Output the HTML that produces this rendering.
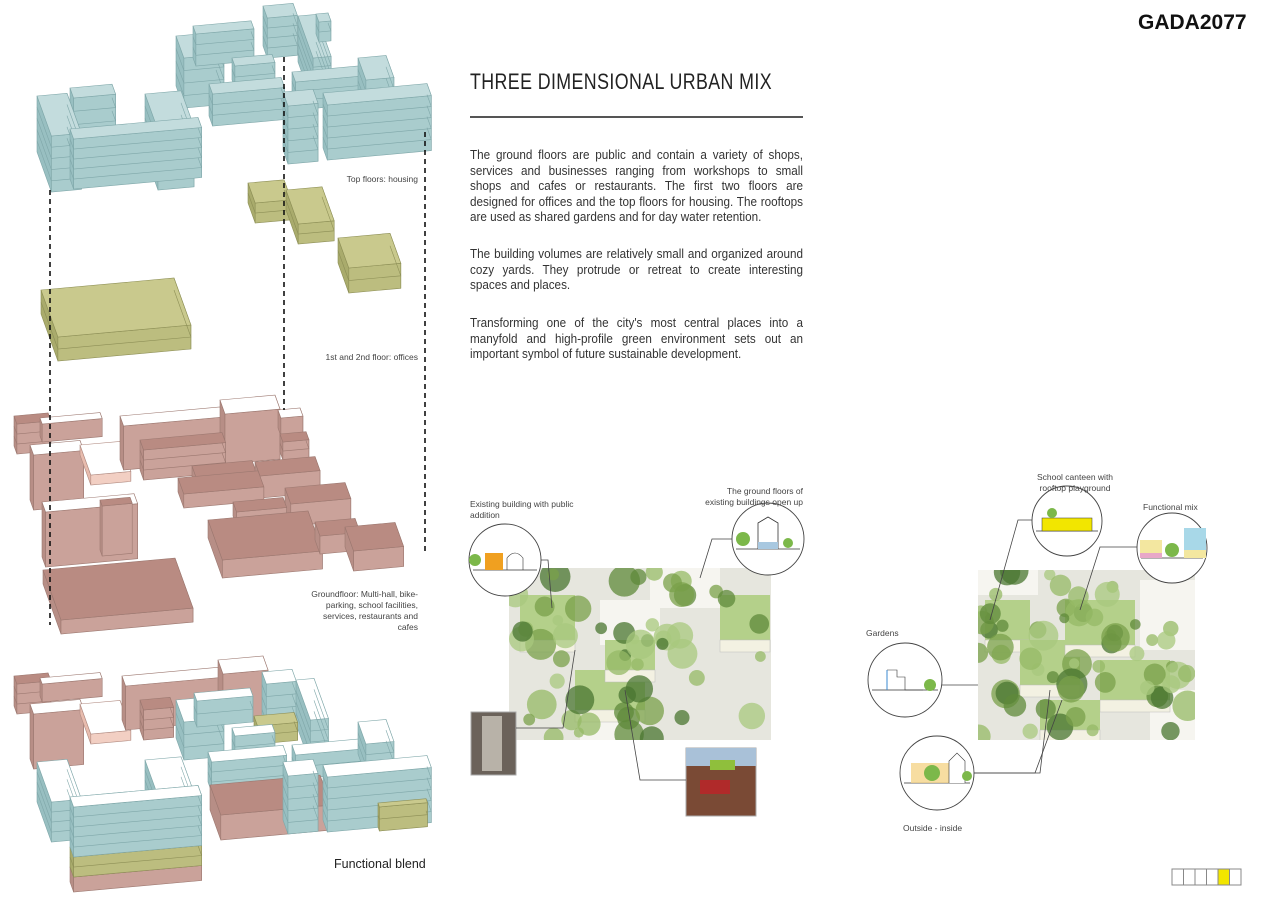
<!DOCTYPE html>
<html><head><meta charset="utf-8">
<style>
html,body{margin:0;padding:0;background:#fff;}
body{width:1273px;height:900px;position:relative;overflow:hidden;font-family:"Liberation Sans",sans-serif;color:#333;}
.abs{position:absolute;white-space:nowrap;}
.lbl{position:absolute;font-size:8.5px;color:#444;line-height:11px;}
.para .ln{position:absolute;left:0;width:370px;font-size:13px;text-align:justify;text-align-last:justify;white-space:nowrap;transform-origin:0 0;transform:scaleX(0.9);color:#333;}
.para .ln.last{text-align-last:left;}
</style></head><body>
<svg id="s" width="1273" height="900" style="position:absolute;left:0;top:0">
<defs>
<clipPath id="c1"><rect x="509" y="568" width="262" height="172"/></clipPath>
<clipPath id="c2"><rect x="978" y="570" width="217" height="170"/></clipPath>
</defs>
<g id="blocks"></g>
<g id="aerial"></g>
<g stroke="#111" stroke-width="1.6" stroke-dasharray="5,4" fill="none">
<line x1="50" y1="190" x2="50" y2="625"/>
<line x1="284" y1="57" x2="284" y2="410"/>
<line x1="425" y1="132" x2="425" y2="555"/>
</g>
<line x1="470" y1="117" x2="803" y2="117" stroke="#555" stroke-width="2"/>
<g stroke="#888" stroke-width="1" fill="#fff">
<rect x="1172" y="869" width="11.5" height="16"/><rect x="1183.5" y="869" width="11.5" height="16"/><rect x="1195" y="869" width="11.5" height="16"/><rect x="1206.5" y="869" width="11.5" height="16"/><rect x="1218" y="869" width="11.5" height="16" fill="#f2e600"/><rect x="1229.5" y="869" width="11.5" height="16"/>
</g>
</svg>

<div class="abs" style="left:1138px;top:11px;font-size:21px;font-weight:bold;color:#111;">GADA2077</div>
<div id="title" class="abs" style="left:470px;top:69px;font-size:22px;color:#222;transform-origin:0 0;letter-spacing:0.5px">THREE DIMENSIONAL URBAN MIX</div>

<div class="para" style="position:absolute;left:470px;top:147px;">
<div class="ln" style="top:0">The ground floors are public and contain a variety of shops,</div>
<div class="ln" style="top:15.5px">services and businesses ranging from workshops to small</div>
<div class="ln" style="top:31px">shops and cafes or restaurants. The first two floors are</div>
<div class="ln" style="top:46.5px">designed for offices and the top floors for housing. The rooftops</div>
<div class="ln last" style="top:62px">are used as shared gardens and for day water retention.</div>
<div class="ln" style="top:99px">The building volumes are relatively small and organized around</div>
<div class="ln" style="top:114.5px">cozy yards. They protrude or retreat to create interesting</div>
<div class="ln last" style="top:130px">spaces and places.</div>
<div class="ln" style="top:168px">Transforming one of the city's most central places into a</div>
<div class="ln" style="top:183.5px">manyfold and high-profile green environment sets out an</div>
<div class="ln last" style="top:199px">important symbol of future sustainable development.</div>
</div>

<div class="lbl" style="left:300px;width:118px;text-align:right;top:174px">Top floors: housing</div>
<div class="lbl" style="left:280px;width:138px;text-align:right;top:352px">1st and 2nd floor: offices</div>
<div class="lbl" style="left:290px;width:128px;text-align:right;top:589px">Groundfloor: Multi-hall, bike-<br>parking, school facilities,<br>services, restaurants and<br>cafes</div>
<div class="abs" style="left:334px;top:857px;font-size:12.5px;color:#222">Functional blend</div>

<div class="lbl" style="left:470px;top:499px">Existing building with public<br>addition</div>
<div class="lbl" style="left:680px;width:123px;text-align:right;top:486px">The ground floors of<br>existing buildings open up</div>
<div class="lbl" style="left:1030px;width:90px;text-align:center;top:472px">School canteen with<br>rooftop playground</div>
<div class="lbl" style="left:1143px;top:502px">Functional mix</div>
<div class="lbl" style="left:866px;top:628px">Gardens</div>
<div class="lbl" style="left:903px;top:823px">Outside - inside</div>

<script>
var NS="http://www.w3.org/2000/svg";
function el(p,t,a){var e=document.createElementNS(NS,t);for(var k in a)e.setAttribute(k,a[k]);p.appendChild(e);return e;}
var B=document.getElementById("blocks");
var PAL={
 b:["#c3dcdd","#a9cccd","#98bfc1","#7fa7a9"],
 o:["#c9c98d","#bcbd7f","#a9ab6c","#8d8f56"],
 r:["#b98b82","#caa29a","#b78e86","#9c7870"],
 w:["#ffffff","#a9cccd","#98bfc1","#7fa7a9"],
 rw:["#ffffff","#caa29a","#b78e86","#9c7870"],
 pk:["#ffffff","#f2cfc3","#e8bcae","#b08a80"]
};
function pts(a){return a.map(function(p){return p[0].toFixed(1)+","+p[1].toFixed(1)}).join(" ");}
function box(x,y,W,D,H,n,pal){
 var c=PAL[pal];
 var ux=1,uy=-0.09,vx=0.36,vy=1;
 var A=[x,y],Bp=[x+W*ux,y+W*uy],C=[Bp[0]+D*vx,Bp[1]+D*vy],Dp=[x+D*vx,y+D*vy];
 var g=el(B,"g",{stroke:c[3],"stroke-width":"0.6"});
 el(g,"polygon",{points:pts([A,Dp,[Dp[0],Dp[1]+H],[A[0],A[1]+H]]),fill:c[2]});
 el(g,"polygon",{points:pts([Bp,C,[C[0],C[1]+H],[Bp[0],Bp[1]+H]]),fill:c[2]});
 el(g,"polygon",{points:pts([Dp,C,[C[0],C[1]+H],[Dp[0],Dp[1]+H]]),fill:c[1]});
 el(g,"polygon",{points:pts([A,Bp,C,Dp]),fill:c[0]});
 for(var i=1;i<n;i++){var h=H*i/n;
  el(g,"polyline",{points:pts([[A[0],A[1]+h],[Dp[0],Dp[1]+h],[C[0],C[1]+h],[Bp[0],Bp[1]+h]]),fill:"none"});}
}
function stack(x,y,W,D,bands,roofpal){
 var acc=0;var list=[];
 bands.forEach(function(b){list.push([acc,b]);acc+=b[0];});
 for(var i=list.length-1;i>=0;i--){var o=list[i][0],b=list[i][1];box(x,y+o,W,D,b[0],b[1],b[2]);}
 box(x,y,W,D,0.01,1,roofpal);
}
box(263,6,30,12,40,4,"b");
box(176,36,40,22,50,4,"b");
box(193,26,58,8,32,3,"b");
box(298,16,18,42,46,5,"b");
box(316,14,12,8,20,2,"b");
box(232,58,40,8,22,2,"b");
box(209,84,72,10,32,3,"b");
box(292,72,72,10,28,3,"b");
box(358,58,28,22,34,3,"b");
box(283,92,30,14,58,5,"b");
box(323,93,104,12,55,5,"b");
box(70,88,42,10,40,3,"b");
box(145,94,36,36,60,5,"b");
box(37,96,30,40,56,5,"b");
box(70,129,128,10,50,5,"b");
box(248,183,36,20,20,2,"o");
box(286,190,36,34,20,2,"o");
box(338,238,52,30,25,2,"o");
box(41,290,133,47,24,2,"o");
box(14,416,34,8,30,3,"r");
box(40,418,60,6,18,1,"rw");
box(30,445,50,10,55,1,"rw");
box(80,445,40,30,10,1,"pk");
box(42,502,92,10,55,1,"rw");
box(100,500,30,6,50,1,"r");
box(120,416,100,10,44,1,"rw");
box(220,400,55,14,50,1,"rw");
box(278,410,22,8,18,1,"rw");
box(140,440,82,10,30,3,"r");
box(280,434,26,8,18,2,"r");
box(192,466,60,14,18,1,"r");
box(255,462,60,14,22,1,"r");
box(178,478,80,16,14,1,"r");
box(285,488,60,16,22,1,"r");
box(233,502,50,10,14,1,"r");
box(208,520,100,40,18,1,"r");
box(315,522,40,14,18,1,"r");
box(345,527,50,24,20,1,"r");
box(43,570,132,50,14,1,"r");
box(14,676,34,8,30,3,"r");
box(40,678,60,6,18,1,"rw");
box(30,704,50,10,55,1,"rw");
box(80,704,40,30,10,1,"pk");
box(122,676,100,10,44,1,"rw");
box(218,660,45,14,50,1,"rw");
box(140,700,30,10,30,3,"r");
box(262,672,30,12,50,4,"w");
box(176,700,40,22,38,3,"w");
box(194,693,56,8,26,2,"w");
box(296,680,18,40,44,4,"w");
box(254,716,40,10,18,2,"o");
box(232,728,40,8,22,2,"w");
box(208,752,75,10,30,3,"w");
box(292,745,70,10,24,2,"w");
box(358,722,28,22,32,3,"w");
box(210,785,110,30,25,1,"r");
box(283,762,30,14,58,5,"w");
box(323,765,104,12,55,5,"w");
box(378,803,48,4,24,2,"o");
box(145,760,36,36,30,3,"w");
box(37,762,30,40,40,4,"w");
stack(70,797,128,10,[[50,5,"b"],[20,2,"o"],[15,1,"r"]],"w");

var Ag=document.getElementById("aerial");
var seed=7;function rnd(){seed=(seed*9301+49297)%233280;return seed/233280;}
function aerial(x,y,w,h,green,clip,roofs,whites){
 var g=el(Ag,"g",{"clip-path":"url(#"+clip+")"});
 el(g,"rect",{x:x,y:y,width:w,height:h,fill:"#e6e6de"});
 whites.forEach(function(r){el(g,"rect",{x:r[0],y:r[1],width:r[2],height:r[3],fill:"#f6f5f0"});});
 roofs.forEach(function(r){el(g,"rect",{x:r[0],y:r[1],width:r[2],height:r[3],fill:"#b4d08a"});
   el(g,"rect",{x:r[0],y:r[1]+r[3],width:r[2],height:12,fill:"#f3f1e2",stroke:"#bbb","stroke-width":"0.5"});});
 for(var i=0;i<green;i++){var cx=x+rnd()*w,cy=y+rnd()*h,r=5+rnd()*11;
  var col=["#7aa04a","#95ba66","#5f8a3a","#a8c87e","#4a7530"][Math.floor(rnd()*5)];
  el(g,"circle",{cx:cx,cy:cy,r:r,fill:col,opacity:0.75});}
}
aerial(509,568,262,172,55,"c1",
 [[520,595,55,45],[575,670,70,40],[605,640,50,30],[720,595,50,45]],
 [[600,600,60,45],[650,568,70,40],[580,690,60,50]]);
aerial(978,570,217,170,60,"c2",
 [[985,600,45,40],[1020,640,60,45],[1065,600,70,45],[1100,660,70,40],[1040,700,60,30]],
 [[978,570,60,25],[1140,580,55,70],[1150,690,45,50]]);
el(Ag,"rect",{x:471,y:712,width:45,height:63,fill:"#6b625a",stroke:"#aaa"});
el(Ag,"rect",{x:482,y:716,width:20,height:55,fill:"#b8b2a8"});
el(Ag,"rect",{x:686,y:748,width:70,height:68,fill:"#7a4a35",stroke:"#aaa"});
el(Ag,"rect",{x:686,y:748,width:70,height:18,fill:"#a9c1d8"});
el(Ag,"rect",{x:710,y:760,width:25,height:10,fill:"#8fbf3c"});
el(Ag,"rect",{x:700,y:780,width:30,height:14,fill:"#b02a2a"});
var L=el(Ag,"g",{stroke:"#444","stroke-width":"0.8",fill:"none"});
function pl(a){el(L,"polyline",{points:pts(a)});}
pl([[541,560],[548,560],[552,608]]);
pl([[732,539],[712,539],[700,578]]);
pl([[516,728],[563,728],[575,650]]);
pl([[686,780],[640,780],[625,690]]);
pl([[1032,520],[1018,520],[990,620]]);
pl([[1137,547],[1100,547],[1080,610]]);
pl([[941,685],[978,685]]);
pl([[974,773],[1040,773],[1050,690]]);
pl([[974,773],[1035,773],[1062,700]]);
function circ(cx,cy,r,kind){
 var g=el(Ag,"g",{});
 el(g,"circle",{cx:cx,cy:cy,r:r,fill:"#fff",stroke:"#444","stroke-width":"0.9"});
 el(g,"line",{x1:cx-r+4,y1:cy+10,x2:cx+r-4,y2:cy+10,stroke:"#333","stroke-width":"0.8"});
 if(kind==1){el(g,"rect",{x:cx-20,y:cy-7,width:18,height:17,fill:"#f0a020"});el(g,"path",{d:"M"+(cx+2)+","+(cy+10)+"v-12q8,-10 16,0v12",fill:"none",stroke:"#333","stroke-width":"0.6"});el(g,"circle",{cx:cx-30,cy:cy,r:6,fill:"#7cb84a"});}
 if(kind==2){el(g,"path",{d:"M"+(cx-10)+","+(cy+10)+"v-26l10,-6 10,6v26",fill:"none",stroke:"#333","stroke-width":"0.8"});el(g,"rect",{x:cx-10,y:cy+3,width:20,height:7,fill:"#a8c8e0"});el(g,"circle",{cx:cx-25,cy:cy,r:7,fill:"#7cb84a"});el(g,"circle",{cx:cx+20,cy:cy+4,r:5,fill:"#7cb84a"});}
 if(kind==3){el(g,"rect",{x:cx-25,y:cy-3,width:50,height:13,fill:"#f2e600",stroke:"#333","stroke-width":"0.5"});el(g,"circle",{cx:cx-15,cy:cy-8,r:5,fill:"#7cb84a"});}
 if(kind==4){el(g,"rect",{x:cx-32,y:cy-8,width:22,height:18,fill:"#f3e7a0"});el(g,"rect",{x:cx-32,y:cy+5,width:22,height:5,fill:"#e8a8c8"});el(g,"rect",{x:cx+12,y:cy-20,width:22,height:30,fill:"#a8d8e8"});el(g,"rect",{x:cx+12,y:cy+2,width:22,height:8,fill:"#f3e7a0"});el(g,"circle",{cx:cx,cy:cy+2,r:7,fill:"#7cb84a"});}
 if(kind==5){el(g,"path",{d:"M"+(cx-18)+","+(cy-10)+"v20 M"+(cx-18)+","+(cy-10)+"h10v7h8v13h18",fill:"none",stroke:"#333","stroke-width":"0.6"});el(g,"circle",{cx:cx+25,cy:cy+5,r:6,fill:"#7cb84a"});el(g,"line",{x1:cx-18,y1:cy-10,x2:cx-18,y2:cy+10,stroke:"#3a8ad0"});}
 if(kind==6){el(g,"rect",{x:cx-26,y:cy-10,width:38,height:20,fill:"#f5d48a",opacity:0.8});el(g,"circle",{cx:cx-5,cy:cy,r:8,fill:"#7cb84a"});el(g,"path",{d:"M"+(cx+12)+","+(cy+10)+"v-22l8,-8 8,8v22",fill:"#fff",stroke:"#333","stroke-width":"0.6"});el(g,"circle",{cx:cx+30,cy:cy+3,r:5,fill:"#7cb84a"});}
}
circ(505,560,36,1);
circ(768,539,36,2);
circ(1067,521,35,3);
circ(1172,548,35,4);
circ(905,680,37,5);
circ(937,773,37,6);
var t=document.getElementById("title");var w=t.getBoundingClientRect().width;t.style.transform="scaleX("+(302/w)+")";
</script>
</body></html>
